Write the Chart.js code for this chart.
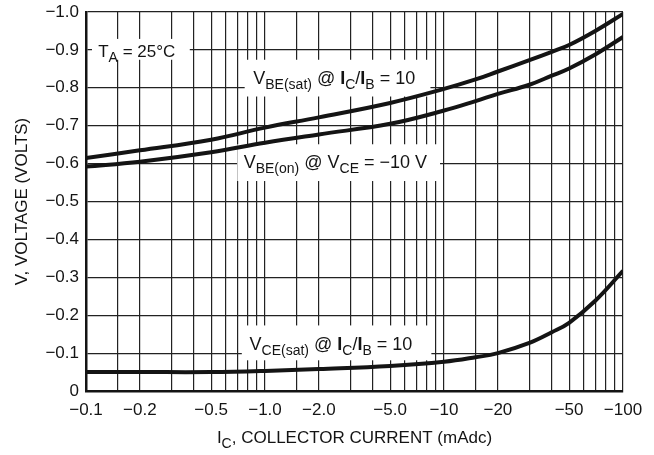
<!DOCTYPE html>
<html>
<head>
<meta charset="utf-8">
<script src="https://cdn.jsdelivr.net/npm/chart.js@4.4.1/dist/chart.umd.min.js"></script>
<style>
  html, body { margin: 0; padding: 0; background: #fff; }
  #wrap { width: 654px; height: 455px; }
</style>
</head>
<body>
<div id="wrap"><canvas id="chart" width="654" height="455"></canvas></div>
<script>
// collector current (mA, magnitude)
const current = [0.1, 0.2, 0.5, 1, 2, 5, 10, 15, 20, 30, 40, 50, 70, 100];
// voltages (volts, negative as on the datasheet)
const vbeSat = [-0.615, -0.635, -0.663, -0.695, -0.722, -0.760, -0.797, -0.822, -0.843, -0.873, -0.895, -0.913, -0.950, -0.995];
const vbeOn  = [-0.592, -0.605, -0.630, -0.655, -0.677, -0.705, -0.740, -0.765, -0.784, -0.808, -0.832, -0.851, -0.888, -0.934];
const vceSat = [-0.050, -0.050, -0.050, -0.053, -0.058, -0.066, -0.077, -0.089, -0.100, -0.127, -0.155, -0.180, -0.238, -0.317];

const gridX = [0.1, 0.15, 0.2, 0.3, 0.4, 0.5, 0.6, 0.7, 0.8, 0.9,
               1, 1.5, 2, 3, 4, 5, 6, 7, 8, 9,
               10, 15, 20, 30, 40, 50, 60, 70, 80, 90, 100];
const labelX = { 0.1: '\u22120.1', 0.2: '\u22120.2', 0.5: '\u22120.5', 1: '\u22121.0', 2: '\u22122.0',
                 5: '\u22125.0', 10: '\u221210', 20: '\u221220', 50: '\u221250', 100: '\u2212100' };

const FONT = '"Liberation Sans", Arial, sans-serif';
const INK = '#141414';

const pts = ys => current.map((x, i) => ({ x, y: ys[i] }));
const curve = ys => ({
  data: pts(ys), borderColor: INK, borderWidth: 4, pointRadius: 0,
  tension: 0.4, fill: false
});

// text runs: [text, kind]  kind: n normal, s subscript, b bold
function runs(ctx, x, y, parts, size) {
  let cx = x;
  parts.forEach(([t, k]) => {
    const sz = k === 's' ? Math.round(size * 0.8) : size;
    ctx.font = (k === 'b' ? 'bold ' : '') + sz + 'px ' + FONT;
    ctx.fillText(t, cx, k === 's' ? y + 5 : y);
    cx += ctx.measureText(t).width;
  });
  return cx;
}

const notes = [
  { box: [0.108, 0.38, -0.929, -0.874], at: [0.117, -0.882], size: 17,
    parts: [['T', 'n'], ['A', 's'], [' = 25\u00b0C', 'n']] },
  { box: [0.77, 8.4, -0.874, -0.777], at: [0.86, -0.811], size: 18,
    parts: [['V', 'n'], ['BE(sat)', 's'], [' @ ', 'n'], ['I', 'b'], ['C', 's'], ['/', 'n'], ['I', 'b'], ['B', 's'], [' = 10', 'n']] },
  { box: [0.7, 9.5, -0.651, -0.554], at: [0.76, -0.588], size: 18,
    parts: [['V', 'n'], ['BE(on)', 's'], [' @ V', 'n'], ['CE', 's'], [' = \u221210 V', 'n']] },
  { box: [0.742, 8.5, -0.173, -0.081], at: [0.82, -0.108], size: 18,
    parts: [['V', 'n'], ['CE(sat)', 's'], [' @ ', 'n'], ['I', 'b'], ['C', 's'], ['/', 'n'], ['I', 'b'], ['B', 's'], [' = 10', 'n']] }
];

const annotations = {
  id: 'annotations',
  beforeDatasetsDraw(chart) {
    const { ctx, scales: { x, y } } = chart;
    ctx.save();
    ctx.fillStyle = '#fff';
    notes.forEach(n => {
      const [x0, x1, y0, y1] = n.box;
      const l = x.getPixelForValue(x0), r = x.getPixelForValue(x1);
      const t = y.getPixelForValue(y0), b = y.getPixelForValue(y1);
      ctx.fillRect(l, t, r - l, b - t);
    });
    ctx.fillStyle = INK;
    ctx.textBaseline = 'alphabetic';
    notes.forEach(n => {
      runs(ctx, x.getPixelForValue(n.at[0]), y.getPixelForValue(n.at[1]), n.parts, n.size);
    });
    ctx.restore();
  },
  afterDraw(chart) {
    const { ctx, chartArea: a } = chart;
    ctx.save();
    ctx.fillStyle = INK;
    // x title, centred under the plot
    const size = 17;
    const parts = [['I', 'n'], ['C', 's'], [', COLLECTOR CURRENT (mAdc)', 'n']];
    let w = 0;
    parts.forEach(([t, k]) => {
      ctx.font = (k === 's' ? Math.round(size * 0.8) : size) + 'px ' + FONT;
      w += ctx.measureText(t).width;
    });
    runs(ctx, (a.left + a.right) / 2 - w / 2, 443, parts, size);
    // y title
    ctx.translate(27, (a.top + a.bottom) / 2);
    ctx.rotate(-Math.PI / 2);
    ctx.font = size + 'px ' + FONT;
    ctx.textAlign = 'center';
    ctx.fillText('V, VOLTAGE (VOLTS)', 0, 0);
    ctx.restore();
  }
};

new Chart(document.getElementById('chart'), {
  type: 'line',
  data: { datasets: [curve(vbeSat), curve(vbeOn), curve(vceSat)] },
  options: {
    responsive: false,
    animation: false,
    layout: { padding: { top: 12, right: 31, left: 0, bottom: 0 } },
    plugins: { legend: { display: false }, tooltip: { enabled: false } },
    scales: {
      x: {
        type: 'logarithmic', min: 0.1, max: 100,
        afterBuildTicks: s => { s.ticks = gridX.map(v => ({ value: v })); },
        afterFit: s => { s.height = 64; s.paddingLeft = 0; s.paddingRight = 0; },
        grid: { color: '#222', lineWidth: 1.2, drawTicks: false },
        border: { color: INK, width: 2.5 },
        ticks: {
          autoSkip: false, maxRotation: 0, padding: 9, color: INK,
          font: { family: FONT, size: 17 },
          callback: v => labelX[v] || ''
        }
      },
      y: {
        type: 'linear', min: -1, max: 0, reverse: true,
        afterFit: s => { s.width = 86; s.paddingTop = 0; s.paddingBottom = 0; },
        grid: { color: '#222', lineWidth: 1.2, drawTicks: false },
        border: { color: INK, width: 2.5 },
        ticks: {
          stepSize: 0.1, padding: 7, color: INK,
          font: { family: FONT, size: 17 },
          callback: v => Math.abs(v) < 1e-9 ? '0' : '\u2212' + Math.abs(v).toFixed(1)
        }
      }
    }
  },
  plugins: [annotations]
});
</script>
</body>
</html>
